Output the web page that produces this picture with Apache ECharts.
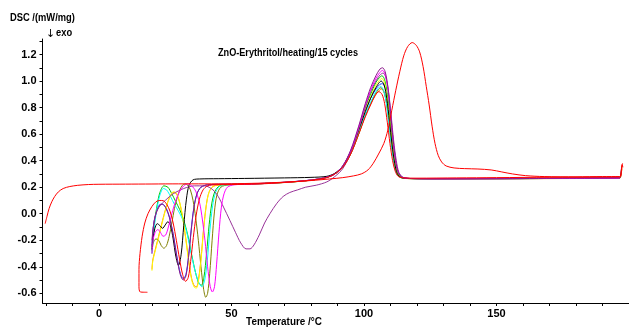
<!DOCTYPE html>
<html><head><meta charset="utf-8">
<script src="https://cdn.jsdelivr.net/npm/echarts@6/dist/echarts.min.js"></script>
<style>html,body{margin:0;padding:0;background:#fff}#c{width:629px;height:329px}</style>
</head><body><div id="c"></div>
<script>
const xTickValues = [-20,-10,0,10,20,30,40,50,60,70,80,90,100,110,120,130,140,150,160,170,180,190];
const xLabelValues = [0,50,100,150];
const yLabelValues = [-0.6,-0.4,-0.2,0.0,0.2,0.4,0.6,0.8,1.0,1.2];
const yTickValues = [-0.6,-0.5,-0.4,-0.3,-0.2,-0.1,0.0,0.1,0.2,0.3,0.4,0.5,0.6,0.7,0.8,0.9,1.0,1.1,1.2,1.3];

const firstHeating = [[-20.3,-0.075],[-19.6,-0.02],[-18.8,0.04],[-17.8,0.09],[-16.7,0.13],[-15.3,0.165],[-13.5,0.19],[-11,0.205],[-8,0.214],[-4,0.22],[0,0.222],[10,0.223],[20,0.224],[30,0.225],[40,0.225],[50,0.226],[60,0.23],[70,0.238],[80,0.25],[87,0.262],[92,0.272],[96,0.285],[99,0.30],[101.5,0.33],[103.5,0.38],[105.5,0.45],[107.5,0.53],[109,0.63],[110.5,0.78],[112,0.93],[113.5,1.07],[115,1.19],[116.5,1.26],[118.2,1.29],[119.7,1.27],[121,1.22],[122.3,1.11],[123.5,0.96],[124.6,0.82],[125.7,0.66],[126.8,0.53],[128,0.44],[129.3,0.39],[131,0.36],[134,0.345],[138,0.34],[143,0.337],[148,0.33],[152,0.315],[156,0.3],[161,0.287],[168,0.28],[180,0.278],[190,0.28],[196.5,0.28],[197,0.31],[197.3,0.36],[197.6,0.38]];

const cycleRed = [[18.3,-0.592],[15.6,-0.59],[15.1,-0.55],[15.1,-0.42],[15.5,-0.3],[16.3,-0.17],[17.3,-0.07],[18.5,0.0],[20,0.055],[21.5,0.09],[23,0.1],[24.3,0.098],[25.6,0.07],[26.8,0.02],[28,-0.07],[29.2,-0.2],[30.4,-0.34],[31.6,-0.46],[32.7,-0.51],[33.7,-0.48],[34.6,-0.36],[35.6,-0.18],[36.7,-0.01],[37.9,0.11],[39.3,0.18],[41,0.21],[44,0.218],[50,0.22],[60,0.224],[70,0.235],[80,0.252],[86,0.272],[89,0.30],[92,0.35],[95,0.45],[98,0.6],[100.5,0.73],[102.5,0.82],[104.2,0.89],[105.6,0.92],[106.8,0.9],[107.8,0.83],[108.8,0.69],[109.8,0.53],[110.8,0.4],[111.8,0.32],[113,0.28],[115,0.27],[120,0.268],[135,0.27],[150,0.272],[170,0.275],[190,0.277],[196.6,0.278],[197.1,0.31],[197.4,0.37],[197.7,0.35]];

const cycleBlack = [[20,-0.27],[20.4,-0.19],[21.1,-0.11],[22,-0.075],[23,-0.09],[24,-0.11],[25,-0.085],[26,-0.06],[27,-0.09],[28,-0.19],[29,-0.32],[30,-0.39],[31,-0.31],[32,-0.09],[33,0.11],[34,0.215],[35.5,0.255],[38,0.262],[45,0.264],[55,0.266],[70,0.27],[80,0.274],[86,0.282],[89,0.305],[92,0.36],[95,0.47],[98,0.63],[100.5,0.77],[102.5,0.87],[104.5,0.95],[106.5,1.0],[107.6,0.97],[108.6,0.87],[109.6,0.7],[110.6,0.52],[111.6,0.38],[112.6,0.3],[114.2,0.272],[117,0.266],[125,0.264],[150,0.266],[175,0.268],[196.5,0.27]];

const cyclePurple = [[20,-0.25],[20.4,-0.13],[21,-0.04],[22,0.03],[23,0.065],[24,0.07],[25.3,0.04],[26.6,-0.03],[28,-0.16],[29.4,-0.33],[30.7,-0.46],[31.8,-0.5],[32.8,-0.47],[33.8,-0.33],[34.8,-0.13],[35.8,0.04],[37,0.15],[38.5,0.2],[41,0.218],[48,0.222],[58,0.226],[70,0.237],[80,0.254],[86,0.275],[89,0.3],[92,0.36],[95,0.48],[98,0.66],[100.5,0.83],[102.5,0.95],[104.5,1.04],[106,1.09],[107,1.1],[108,1.07],[109,0.96],[110,0.77],[111,0.56],[112,0.4],[113,0.31],[114.6,0.274],[118,0.265],[130,0.263],[150,0.264],[175,0.267],[196.5,0.27],[196.9,0.3],[197.2,0.35]];

const cycleBlue = [[20,-0.24],[20.4,-0.12],[21,-0.035],[22,0.035],[23,0.07],[24,0.072],[25.3,0.045],[26.6,-0.025],[28,-0.15],[29.4,-0.32],[30.7,-0.45],[31.8,-0.49],[32.8,-0.46],[33.8,-0.32],[34.8,-0.12],[35.8,0.045],[37,0.152],[38.5,0.2],[41,0.218],[48,0.222],[58,0.226],[70,0.237],[80,0.254],[86,0.275],[89,0.3],[92,0.355],[95,0.46],[98,0.62],[100.5,0.77],[102.5,0.87],[104.5,0.94],[106,0.975],[107,0.98],[108,0.95],[109,0.85],[110,0.68],[111,0.5],[112,0.37],[113,0.3],[114.6,0.272],[118,0.265],[130,0.263],[150,0.264],[175,0.266],[196.5,0.268]];

const cycleYellow = [[20,-0.43],[20.3,-0.36],[21,-0.3],[22,-0.22],[23,-0.14],[24,-0.06],[25,0.02],[26,0.09],[27,0.14],[28,0.165],[29,0.16],[30,0.12],[31,0.04],[32,-0.08],[33,-0.23],[34,-0.38],[35,-0.5],[36,-0.555],[36.8,-0.56],[37.6,-0.5],[38.5,-0.35],[39.5,-0.12],[40.5,0.06],[41.5,0.16],[43,0.205],[46,0.218],[55,0.222],[70,0.236],[80,0.253],[86,0.274],[89,0.3],[92,0.355],[95,0.465],[98,0.63],[100.5,0.78],[102.5,0.88],[104.5,0.97],[105.8,1.005],[106.7,1.02],[107.7,0.99],[108.7,0.88],[109.7,0.7],[110.7,0.52],[111.7,0.38],[112.7,0.3],[114.3,0.272],[117,0.265],[130,0.263],[150,0.264],[175,0.266],[196.5,0.268]];

const cycleOrange = [[20,-0.42],[20.3,-0.35],[21,-0.29],[22,-0.21],[23,-0.13],[24,-0.05],[25,0.025],[26,0.09],[27,0.135],[28,0.16],[29,0.155],[30,0.115],[31,0.035],[32,-0.08],[33,-0.22],[34,-0.37],[35,-0.49],[36,-0.545],[36.8,-0.55],[37.6,-0.49],[38.5,-0.34],[39.5,-0.11],[40.5,0.065],[41.5,0.16],[43,0.205],[46,0.218],[55,0.222],[70,0.236],[80,0.253],[86,0.274],[89,0.3],[92,0.35],[95,0.45],[98,0.6],[100.5,0.74],[102.5,0.83],[104.5,0.9],[105.8,0.93],[106.7,0.94],[107.7,0.91],[108.7,0.82],[109.7,0.66],[110.7,0.49],[111.7,0.36],[112.7,0.29],[114.3,0.27],[117,0.264],[130,0.262],[150,0.263],[175,0.265],[196.5,0.267],[197,0.3],[197.4,0.34]];

const cycleCyan = [[20,-0.3],[20.4,-0.2],[21,-0.08],[22,0.05],[23,0.14],[24.3,0.19],[25.5,0.18],[27,0.13],[28.5,0.07],[30,0.02],[31.5,-0.04],[33,-0.13],[34.5,-0.27],[36,-0.41],[37.5,-0.51],[38.8,-0.55],[39.9,-0.5],[40.9,-0.35],[41.9,-0.12],[42.9,0.06],[44,0.16],[45.5,0.205],[48,0.218],[56,0.222],[70,0.236],[80,0.253],[86,0.274],[89,0.3],[92,0.35],[95,0.455],[98,0.61],[100.5,0.75],[102.5,0.84],[104.5,0.92],[106.3,0.96],[107.4,0.93],[108.4,0.84],[109.4,0.68],[110.4,0.51],[111.4,0.38],[112.4,0.3],[114,0.272],[117,0.265],[130,0.263],[150,0.264],[175,0.266],[196.5,0.268]];

const cycleGreen = [[20,-0.28],[20.4,-0.18],[21,-0.06],[22,0.07],[23,0.16],[24.5,0.21],[26,0.2],[27.5,0.15],[29,0.09],[30.5,0.03],[32,-0.05],[33.5,-0.16],[35,-0.31],[36.4,-0.44],[37.6,-0.52],[38.6,-0.54],[39.6,-0.48],[40.6,-0.3],[41.6,-0.08],[42.6,0.08],[43.8,0.17],[45.5,0.21],[48,0.218],[56,0.222],[70,0.236],[80,0.253],[86,0.274],[89,0.3],[92,0.355],[95,0.47],[98,0.64],[100.5,0.8],[102.5,0.9],[104.5,0.99],[105.8,1.025],[106.8,1.04],[107.8,1.01],[108.8,0.9],[109.8,0.72],[110.8,0.53],[111.8,0.39],[112.8,0.3],[114.4,0.272],[117,0.265],[130,0.263],[150,0.264],[175,0.266],[196.5,0.268]];

const cycleOlive = [[20,-0.3],[20.5,-0.22],[21.5,-0.19],[22.5,-0.2],[23.5,-0.24],[24.5,-0.26],[25.5,-0.24],[26.5,-0.17],[27.5,-0.07],[28.5,0.04],[29.5,0.12],[30.5,0.18],[31.5,0.215],[32.5,0.225],[33.5,0.215],[34.5,0.18],[35.5,0.1],[36.5,-0.03],[37.5,-0.2],[38.5,-0.4],[39.5,-0.57],[40.3,-0.63],[41,-0.6],[41.8,-0.45],[42.7,-0.2],[43.6,0.02],[44.5,0.14],[46,0.2],[49,0.218],[56,0.222],[70,0.236],[80,0.253],[86,0.274],[89,0.3],[92,0.35],[95,0.45],[98,0.6],[100.5,0.74],[102.5,0.83],[104.5,0.91],[106.4,0.95],[107.5,0.92],[108.5,0.83],[109.5,0.67],[110.5,0.5],[111.5,0.37],[112.5,0.3],[114.1,0.272],[117,0.265],[130,0.263],[150,0.264],[175,0.266],[196.5,0.268],[197,0.31],[197.3,0.36]];

const cycleMagenta = [[20,-0.3],[20.4,-0.2],[21.2,-0.14],[22.2,-0.12],[23.2,-0.14],[24.2,-0.17],[25.2,-0.16],[26.2,-0.1],[27.5,0.0],[29,0.1],[30.5,0.17],[32,0.21],[33.5,0.225],[35,0.21],[36.5,0.17],[38,0.08],[39,-0.04],[40,-0.2],[41,-0.4],[42,-0.55],[42.8,-0.59],[43.6,-0.55],[44.4,-0.38],[45.3,-0.14],[46.2,0.05],[47.2,0.15],[48.5,0.2],[51,0.218],[57,0.222],[70,0.237],[80,0.254],[86,0.275],[89,0.3],[92,0.36],[95,0.475],[98,0.65],[100.5,0.82],[102.5,0.93],[104.5,1.02],[106,1.065],[107,1.08],[108,1.05],[109,0.94],[110,0.75],[111,0.55],[112,0.39],[113,0.31],[114.6,0.274],[118,0.265],[130,0.263],[150,0.264],[175,0.266],[196.5,0.268]];

const cyclePurple2 = [[20,-0.2],[20.5,-0.1],[21.5,0.0],[23,0.06],[25,0.1],[28,0.15],[32,0.19],[36,0.21],[40,0.21],[43,0.18],[45,0.13],[47,0.05],[49.4,-0.05],[51.5,-0.14],[53.5,-0.22],[55.5,-0.265],[57,-0.265],[58.5,-0.235],[60.5,-0.16],[62.5,-0.07],[64.5,0.0],[67,0.075],[69.5,0.13],[72,0.16],[75,0.18],[78,0.2],[82,0.215],[86,0.24],[89,0.28],[92,0.34],[95,0.46],[98,0.64],[100.5,0.8],[102.5,0.92],[104.5,1.0],[106,1.045],[107.2,1.06],[108.2,1.03],[109.2,0.93],[110.2,0.75],[111.2,0.55],[112.2,0.4],[113.2,0.31],[114.8,0.274],[118,0.265],[130,0.263],[150,0.264],[175,0.267],[196.5,0.27]];

const seriesDefs = [
  ['cycle b', cycleBlue, '#2040ff'],
  ['cycle o', cycleOrange, '#ff8c00'],
  ['cycle g', cycleGreen, '#00c800'],
  ['cycle ol', cycleOlive, '#808000'],
  ['cycle c', cycleCyan, '#00ffff'],
  ['cycle y', cycleYellow, '#ffff00'],
  ['cycle k', cycleBlack, '#000000'],
  ['cycle p2', cyclePurple2, '#993399'],
  ['cycle m', cycleMagenta, '#ff00ff'],
  ['cycle p', cyclePurple, '#8b1a8b'],
  ['cycle r', cycleRed, '#ff0000'],
  ['first', firstHeating, '#ff0000']
];

const FONT = '"Liberation Sans", Arial, sans-serif';
const chart = echarts.init(document.getElementById('c'), null, {renderer: 'canvas'});
function label(text, x, y, align, sx, size) {
  return {type: 'text', x, y, scaleX: sx, style: {text, textAlign: align, textVerticalAlign: 'middle', fontSize: size || 11, fontWeight: 'bold', fontFamily: FONT, fill: '#000'}};
}
chart.setOption({
  animation: false,
  backgroundColor: '#ffffff',
  grid: {left: 42.5, right: 0, top: 39, bottom: 26, containLabel: false, outerBoundsMode: 'none'},
  xAxis: {
    type: 'value', min: -21.3, max: 200,
    axisLine: {show: true, onZero: false, lineStyle: {color: '#000', width: 1}},
    axisTick: {show: true, inside: false, length: 3, customValues: xTickValues, lineStyle: {color: '#000'}},
    axisLabel: {show: true, customValues: xLabelValues, margin: 5, color: '#000', fontWeight: 'bold', fontSize: 11, fontFamily: FONT, formatter: v => String(v)},
    splitLine: {show: false}
  },
  yAxis: {
    type: 'value', min: -0.673, max: 1.317,
    axisLine: {show: true, onZero: false, lineStyle: {color: '#000', width: 1}},
    axisTick: {show: true, inside: false, length: 3, customValues: yTickValues, lineStyle: {color: '#000'}},
    axisLabel: {show: true, customValues: yLabelValues, margin: 6, color: '#000', fontWeight: 'bold', fontSize: 11, fontFamily: FONT, formatter: v => v.toFixed(1)},
    splitLine: {show: false}
  },
  graphic: [
    label('DSC /(mW/mg)', 10, 18, 'left', 0.85),
    {type: 'text', x: 46, y: 34, style: {text: '\u2193', textAlign: 'left', textVerticalAlign: 'middle', fontSize: 11, fontFamily: '"DejaVu Sans", sans-serif', fill: '#000'}},
    label('exo', 56, 33, 'left', 0.85),
    label('ZnO-Erythritol/heating/15 cycles', 288, 53, 'center', 0.83),
    label('Temperature /\u00B0C', 284, 322, 'center', 0.9)
  ],
  series: seriesDefs.map(([name, data, color]) => ({
    name, type: 'line', data, showSymbol: false, symbol: 'none', smooth: 0.3,
    clip: true, silent: true,
    lineStyle: {color, width: 1}
  }))
});
</script></body></html>
